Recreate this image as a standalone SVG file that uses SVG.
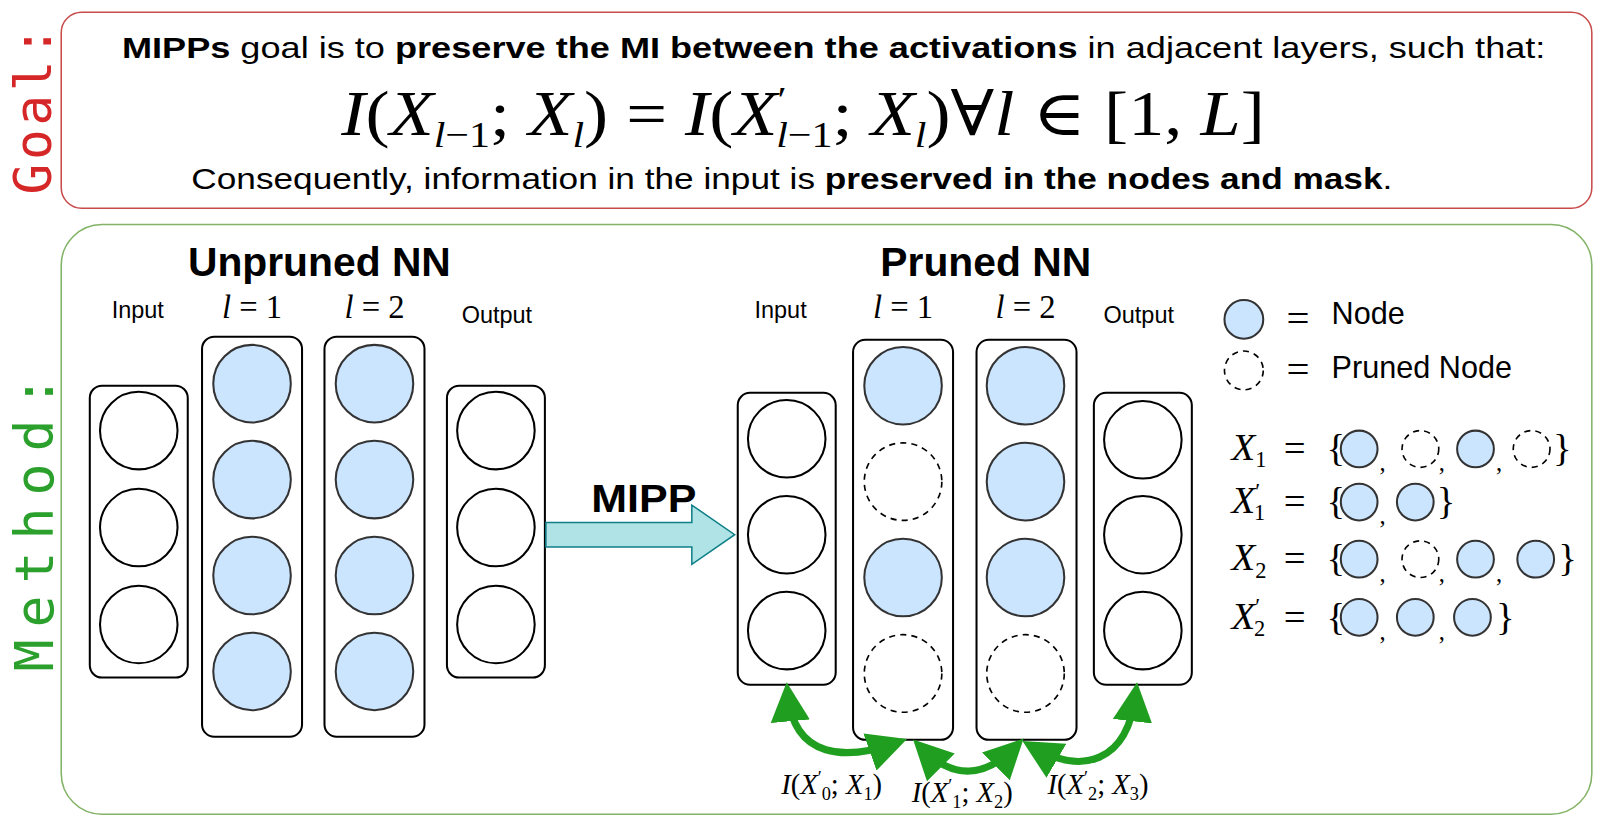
<svg xmlns="http://www.w3.org/2000/svg" width="1600" height="820" viewBox="0 0 1600 820">
<style>
.s{font-family:"Liberation Sans",Arial,sans-serif;fill:#000}
.m{font-family:"Liberation Serif","DejaVu Serif",serif;fill:#000}
.col{fill:#fff;stroke:#000;stroke-width:2}
.n{fill:#cce5ff;stroke:#333;stroke-width:2}
.e{fill:#fff;stroke:#000;stroke-width:2}
.d{fill:none;stroke:#000;stroke-width:1.6;stroke-dasharray:6 5}
.g{fill:none;stroke:#1f9e1f;stroke-width:7}
</style>
<defs>
<marker id="ah" viewBox="0 0 10 10" refX="7" refY="5" markerWidth="5.5" markerHeight="5.5" orient="auto-start-reverse" markerUnits="strokeWidth"><path d="M0,0 L10,5 L0,10 z" fill="#1f9e1f"/></marker>
</defs>
<g transform="scale(1.0204)">
<g id="goal">
<rect x="60" y="12" width="1500" height="192" rx="20" fill="#fff" stroke="#c84b4b" stroke-width="1.5"/>
<text x="0" y="0" transform="translate(50,108) rotate(-90)" text-anchor="middle" font-family="DejaVu Sans Mono,monospace" font-size="50" fill="#d62728" textLength="165" lengthAdjust="spacing">Goal:</text>
<text class="s" x="817" y="57" text-anchor="middle" font-size="28" textLength="1395" lengthAdjust="spacingAndGlyphs"><tspan font-weight="bold">MIPPs</tspan> goal is to <tspan font-weight="bold">preserve the MI between the activations</tspan> in adjacent layers, such that:</text>
<text class="m" x="787" y="132" text-anchor="middle" font-size="62" textLength="905" lengthAdjust="spacingAndGlyphs"><tspan font-style="italic">I</tspan>(<tspan font-style="italic">X</tspan><tspan font-size="36" dy="12"><tspan font-style="italic">l</tspan>−1</tspan><tspan dy="-12">; </tspan><tspan font-style="italic">X</tspan><tspan font-size="36" font-style="italic" dy="12">l</tspan><tspan dy="-12">) = </tspan><tspan font-style="italic">I</tspan>(<tspan font-style="italic">X</tspan><tspan font-size="36" dy="-22">′</tspan><tspan font-size="36" dx="-9" dy="34"><tspan font-style="italic">l</tspan>−1</tspan><tspan dy="-12">; </tspan><tspan font-style="italic">X</tspan><tspan font-size="36" font-style="italic" dy="12">l</tspan><tspan dy="-12">)∀</tspan><tspan font-style="italic">l</tspan> ∈ [1, <tspan font-style="italic">L</tspan>]</text>
<text class="s" x="776" y="185" text-anchor="middle" font-size="28" textLength="1177" lengthAdjust="spacingAndGlyphs">Consequently, information in the input is <tspan font-weight="bold">preserved in the nodes and mask</tspan>.</text>
</g>
<g id="method">
<rect x="60" y="220" width="1500" height="578" rx="40" fill="#fff" stroke="#82b366" stroke-width="1.5"/>
<text x="0" y="0" transform="translate(52,513) rotate(-90)" text-anchor="middle" font-family="DejaVu Sans Mono,monospace" font-size="52" fill="#2ca02c" textLength="290" lengthAdjust="spacing">Method:</text>
</g>
<g id="unpruned">
<text class="s" x="313" y="270" text-anchor="middle" font-size="40" font-weight="bold">Unpruned NN</text>
<text class="s" x="135" y="312" text-anchor="middle" font-size="23">Input</text>
<text class="m" x="247" y="312" text-anchor="middle" font-size="32"><tspan font-style="italic">l</tspan> = 1</text>
<text class="m" x="367" y="312" text-anchor="middle" font-size="32"><tspan font-style="italic">l</tspan> = 2</text>
<text class="s" x="487" y="317" text-anchor="middle" font-size="23">Output</text>
<rect class="col" x="88" y="378" width="96" height="286" rx="12"/>
<circle class="e" cx="136" cy="422" r="38"/><circle class="e" cx="136" cy="517" r="38"/><circle class="e" cx="136" cy="612" r="38"/>
<rect class="col" x="198" y="330" width="98" height="392" rx="12"/>
<circle class="n" cx="247" cy="376" r="38"/><circle class="n" cx="247" cy="470" r="38"/><circle class="n" cx="247" cy="564" r="38"/><circle class="n" cx="247" cy="658" r="38"/>
<rect class="col" x="318" y="330" width="98" height="392" rx="12"/>
<circle class="n" cx="367" cy="376" r="38"/><circle class="n" cx="367" cy="470" r="38"/><circle class="n" cx="367" cy="564" r="38"/><circle class="n" cx="367" cy="658" r="38"/>
<rect class="col" x="438" y="378" width="96" height="286" rx="12"/>
<circle class="e" cx="486" cy="422" r="38"/><circle class="e" cx="486" cy="517" r="38"/><circle class="e" cx="486" cy="612" r="38"/>
</g>
<g id="mipp">
<path d="M535,512 L678,512 L678,495 L720,524 L678,553 L678,536 L535,536 z" fill="#b0e3e6" stroke="#0e8088" stroke-width="1.5"/>
<text class="s" x="631" y="502" text-anchor="middle" font-size="38" font-weight="bold" textLength="103" lengthAdjust="spacingAndGlyphs">MIPP</text>
</g>
<g id="pruned">
<text class="s" x="966" y="270" text-anchor="middle" font-size="40" font-weight="bold">Pruned NN</text>
<text class="s" x="765" y="312" text-anchor="middle" font-size="23">Input</text>
<text class="m" x="885" y="312" text-anchor="middle" font-size="32"><tspan font-style="italic">l</tspan> = 1</text>
<text class="m" x="1005" y="312" text-anchor="middle" font-size="32"><tspan font-style="italic">l</tspan> = 2</text>
<text class="s" x="1116" y="317" text-anchor="middle" font-size="23">Output</text>
<rect class="col" x="723" y="385" width="96" height="286" rx="12"/>
<circle class="e" cx="771" cy="430" r="38"/><circle class="e" cx="771" cy="524" r="38"/><circle class="e" cx="771" cy="618" r="38"/>
<rect class="col" x="836" y="333" width="98" height="392" rx="12"/>
<circle class="n" cx="885" cy="378" r="38"/><circle class="d" cx="885" cy="472" r="38"/><circle class="n" cx="885" cy="566" r="38"/><circle class="d" cx="885" cy="660" r="38"/>
<rect class="col" x="957" y="333" width="98" height="392" rx="12"/>
<circle class="n" cx="1005" cy="378" r="38"/><circle class="n" cx="1005" cy="472" r="38"/><circle class="n" cx="1005" cy="566" r="38"/><circle class="d" cx="1005" cy="660" r="38"/>
<rect class="col" x="1072" y="385" width="96" height="286" rx="12"/>
<circle class="e" cx="1120" cy="431" r="38"/><circle class="e" cx="1120" cy="524" r="38"/><circle class="e" cx="1120" cy="618" r="38"/>
</g>
<g id="connectors">
<path class="g" d="M772,680 C778,745 830,745 878,728" marker-start="url(#ah)" marker-end="url(#ah)"/>
<path class="g" d="M903,733 C935,765 965,762 995,732" marker-start="url(#ah)" marker-end="url(#ah)"/>
<path class="g" d="M1012,732 C1060,760 1105,748 1113,680" marker-start="url(#ah)" marker-end="url(#ah)"/>
</g>
<g id="mi-labels" class="m" font-size="28">
<text x="815" y="778" text-anchor="middle"><tspan font-style="italic">I</tspan>(<tspan font-style="italic">X</tspan><tspan font-size="18" dy="-10">′</tspan><tspan font-size="18" dy="16">0</tspan><tspan dy="-6">; </tspan><tspan font-style="italic">X</tspan><tspan font-size="18" dy="6">1</tspan><tspan dy="-6">)</tspan></text>
<text x="943" y="786" text-anchor="middle"><tspan font-style="italic">I</tspan>(<tspan font-style="italic">X</tspan><tspan font-size="18" dy="-10">′</tspan><tspan font-size="18" dy="16">1</tspan><tspan dy="-6">; </tspan><tspan font-style="italic">X</tspan><tspan font-size="18" dy="6">2</tspan><tspan dy="-6">)</tspan></text>
<text x="1076" y="778" text-anchor="middle"><tspan font-style="italic">I</tspan>(<tspan font-style="italic">X</tspan><tspan font-size="18" dy="-10">′</tspan><tspan font-size="18" dy="16">2</tspan><tspan dy="-6">; </tspan><tspan font-style="italic">X</tspan><tspan font-size="18" dy="6">3</tspan><tspan dy="-6">)</tspan></text>
</g>
<g id="legend">
<circle class="n" cx="1219" cy="313" r="19"/>
<text class="m" x="1272" y="325" text-anchor="middle" font-size="40">=</text>
<text class="s" x="1305" y="318" font-size="30">Node</text>
<circle class="d" cx="1219" cy="363" r="19"/>
<text class="m" x="1272" y="375" text-anchor="middle" font-size="40">=</text>
<text class="s" x="1305" y="370" font-size="30">Pruned Node</text>
</g>
<g id="sets" class="m" font-size="38">
<text x="1207" y="451"><tspan font-style="italic">X</tspan><tspan font-size="22" dy="7">1</tspan></text><text x="1258" y="452">=</text><text x="1300" y="452">{</text>
<circle class="n" cx="1332" cy="440" r="18"/><circle class="d" cx="1392" cy="440" r="18"/><circle class="n" cx="1446" cy="440" r="18"/><circle class="d" cx="1501" cy="440" r="18"/>
<text x="1352" y="462" font-size="24">,</text><text x="1410" y="462" font-size="24">,</text><text x="1466" y="462" font-size="24">,</text>
<text x="1522" y="452">}</text>
<text x="1207" y="503"><tspan font-style="italic">X</tspan><tspan font-size="22" dy="-14">′</tspan><tspan font-size="22" dx="-6" dy="21">1</tspan></text><text x="1258" y="504">=</text><text x="1300" y="504">{</text>
<circle class="n" cx="1332" cy="492" r="18"/><circle class="n" cx="1387" cy="492" r="18"/>
<text x="1352" y="514" font-size="24">,</text>
<text x="1408" y="504">}</text>
<text x="1207" y="559"><tspan font-style="italic">X</tspan><tspan font-size="22" dy="7">2</tspan></text><text x="1258" y="560">=</text><text x="1300" y="560">{</text>
<circle class="n" cx="1332" cy="548" r="18"/><circle class="d" cx="1392" cy="548" r="18"/><circle class="n" cx="1446" cy="548" r="18"/><circle class="n" cx="1505" cy="548" r="18"/>
<text x="1352" y="570" font-size="24">,</text><text x="1410" y="570" font-size="24">,</text><text x="1466" y="570" font-size="24">,</text>
<text x="1527" y="560">}</text>
<text x="1207" y="616"><tspan font-style="italic">X</tspan><tspan font-size="22" dy="-14">′</tspan><tspan font-size="22" dx="-6" dy="21">2</tspan></text><text x="1258" y="617">=</text><text x="1300" y="617">{</text>
<circle class="n" cx="1332" cy="605" r="18"/><circle class="n" cx="1387" cy="605" r="18"/><circle class="n" cx="1443" cy="605" r="18"/>
<text x="1352" y="627" font-size="24">,</text><text x="1410" y="627" font-size="24">,</text>
<text x="1466" y="617">}</text>
</g>
</g>
</svg>
